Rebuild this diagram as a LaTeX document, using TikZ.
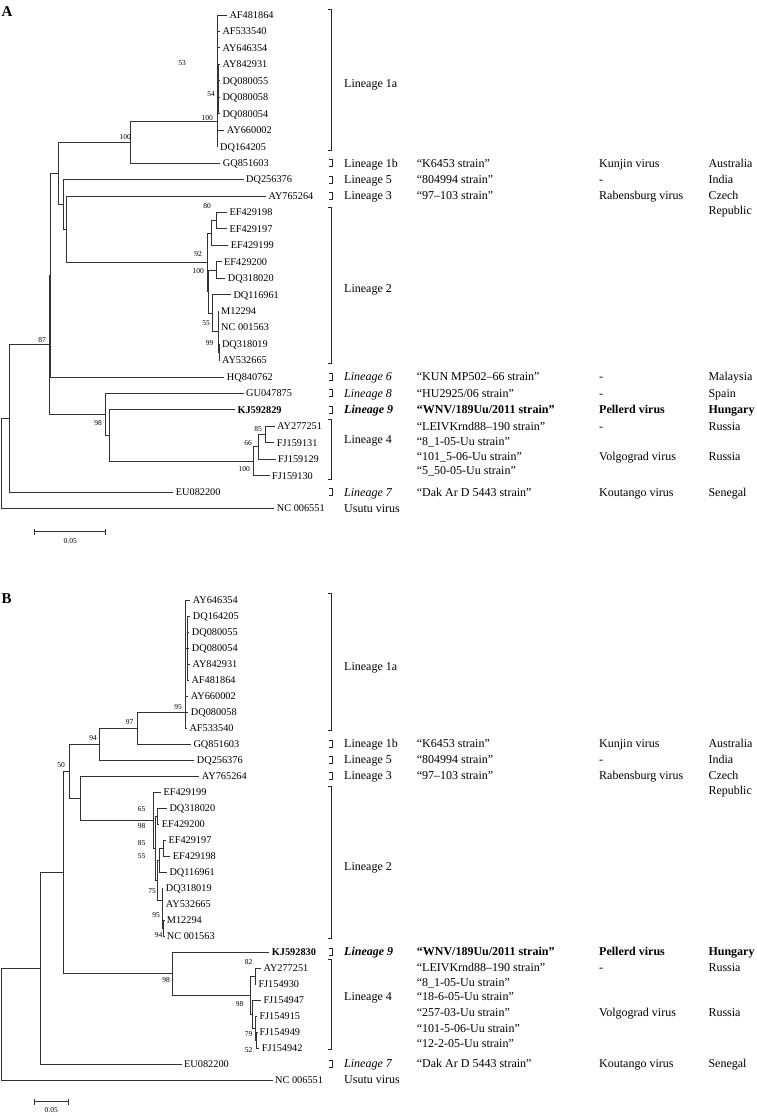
\documentclass[tikz,border=0pt]{standalone}
\usepackage{fontspec}
\setmainfont{Liberation Serif}
\usetikzlibrary{arrows.meta, positioning}

\begin{document}
\begin{tikzpicture}[x=1pt, y=-1pt,
  branch/.style={line width=0.8pt, black!80},
  leaf/.style={anchor=west, inner xsep=2.5pt, inner ysep=0pt, text height=6.8pt, text depth=0pt, font=\fontsize{10.3}{12}\selectfont},
  boot/.style={anchor=east, inner sep=0pt, text height=5pt, text depth=0pt, font=\fontsize{7.5}{9}\selectfont},
  info/.style={anchor=west, inner sep=0pt, text height=7.9pt, text depth=0pt, font=\fontsize{12}{14}\selectfont},
  brk/.style={line width=0.8pt, black!85},
  panel/.style={anchor=base west, inner sep=0pt, font=\fontsize{15}{18}\selectfont\bfseries}]
  \useasboundingbox (0,0) rectangle (757,1116);

  % ================= Panel A =================
  \node[panel] (pA) at (1.5,16.7) {A};

  % Leaves
  \foreach \n/\xx/\yy/\tx in {AF481864/226.8/15.0/AF481864, AF533540/219.8/31.45/AF533540,
      AY646354/219.8/47.9/AY646354, AY842931/219.8/64.35/AY842931, DQ080055/219.8/80.8/DQ080055,
      DQ080058/219.8/97.25/DQ080058, DQ080054/219.8/113.7/DQ080054, AY660002/224.2/130.15/AY660002,
      DQ164205/217.5/146.6/DQ164205, GQ851603/220.2/163.05/GQ851603, DQ256376/243.5/179.5/DQ256376,
      AY765264/265.8/195.95/AY765264, EF429198/226.8/212.4/EF429198, EF429197/226.8/228.85/EF429197,
      EF429199/228.2/245.3/EF429199, EF429200/221.5/261.75/EF429200, DQ318020/225.2/278.2/DQ318020,
      DQ116961/230.8/294.65/DQ116961, M12294/218.5/311.1/M12294, NC001563/218.5/327.55/NC 001563,
      DQ318019/219.3/344.0/DQ318019, AY532665/219.3/360.45/AY532665, HQ840762/224.2/376.9/HQ840762,
      GU047875/243.5/393.35/GU047875, AY277251/274.5/426.25/AY277251, FJ159131/274.2/442.7/FJ159131,
      FJ159129/275.5/459.15/FJ159129, FJ159130/269.5/475.6/FJ159130, EU082200/173.2/492.05/EU082200,
      NC006551/274.2/508.5/NC 006551}
    \node[leaf] (a\n) at (\xx,\yy) {\tx};
  \node[leaf, font=\fontsize{10.3}{12}\selectfont\bfseries] (aKJ592829) at (234.8,409.8) {KJ592829};

  % Internal nodes
  \coordinate (nAroot) at (1.5,463.3);
  \coordinate (nA7) at (9.3,418.1);
  \coordinate (nA87) at (49,344.1);
  \coordinate (nAe) at (50,274.95);
  \coordinate (nAb) at (58.3,173);
  \coordinate (nA100) at (130,142.4);
  \coordinate (nA1a) at (217,121.7);
  \coordinate (nA53) at (218.6,89);
  \coordinate (nAc) at (63.3,204.3);
  \coordinate (nAd) at (66.7,229.1);
  \coordinate (nA2) at (207,262.3);
  \coordinate (nA92) at (211.7,232.95);
  \coordinate (nA80) at (216.7,220.6);
  \coordinate (nA100c) at (208.5,291.6);
  \coordinate (nAE) at (216.7,270);
  \coordinate (nAR) at (212.5,313.1);
  \coordinate (nA55) at (218.3,331.6);
  \coordinate (nA99) at (219,352.2);
  \coordinate (nA98) at (105.7,414.4);
  \coordinate (nA94) at (109.3,435.5);
  \coordinate (nAL4) at (253.3,461.2);
  \coordinate (nA66) at (258.7,446.7);
  \coordinate (nA85) at (265.3,434.5);

  % Branches
  \foreach \p/\c in {nAroot/nA7, nAroot/aNC006551, nA7/nA87, nA7/aEU082200,
      nA87/nAe, nA87/nA98, nAe/nAb, nAe/aHQ840762, nAb/nA100, nAb/nAc,
      nA100/nA1a, nA100/aGQ851603, nA1a/aAF481864, nA1a/aAF533540, nA1a/aAY646354,
      nA1a/nA53, nA1a/aAY660002, nA1a/aDQ164205, nA53/aAY842931, nA53/aDQ080055,
      nA53/aDQ080058, nA53/aDQ080054, nAc/aDQ256376, nAc/nAd, nAd/aAY765264, nAd/nA2,
      nA2/nA92, nA2/nA100c, nA92/nA80, nA92/aEF429199, nA80/aEF429198, nA80/aEF429197,
      nA100c/nAE, nA100c/nAR, nAE/aEF429200, nAE/aDQ318020, nAR/aDQ116961, nAR/nA55,
      nA55/aM12294, nA55/aNC001563, nA55/nA99, nA99/aDQ318019, nA99/aAY532665,
      nA98/aGU047875, nA98/nA94, nA94/aKJ592829, nA94/nAL4, nAL4/nA66, nAL4/aFJ159130,
      nA66/nA85, nA66/aFJ159129, nA85/aAY277251, nA85/aFJ159131}
    \draw[branch] (\p) |- (\c);

  % Bootstrap values
  \foreach \xx/\yy/\tx [count=\i] in {186/63/53, 215/94.3/54, 213/118/100, 131/137.3/100,
      211/206/80, 202/254/92, 204/270.7/100, 210/322.7/55, 213.5/343.3/99, 46/340/87,
      102/422.7/98, 262/429.3/85, 252/442.7/66, 250/469.3/100}
    \node[boot] (bA\i) at (\xx,\yy) {\tx};

  % Brackets
  \draw[brk] (328,9.3) -| (331.7,150) -- (328,150);
  \draw[brk] (328,207.3) -| (331.7,363.3) -- (328,363.3);
  \draw[brk] (328,419) -| (331.7,479.3) -- (328,479.3);
  \foreach \yy in {163.05,179.5,195.95,376.9,393.35,409.8,492.05}
    \draw[brk] (328.5,\yy-3.5) -| (332,\yy+3.5) -- (328.5,\yy+3.5);

  % Lineage, strain, virus, country
  \foreach \yy/\tx [count=\i] in {84/Lineage 1a, 163.05/Lineage 1b, 179.5/Lineage 5,
      195.95/Lineage 3, 289/Lineage 2, 376.9/\textit{Lineage 6}, 393.35/\textit{Lineage 8},
      409.8/\textbf{\textit{Lineage 9}}, 440/Lineage 4, 492.05/\textit{Lineage 7}, 508.5/Usutu virus}
    \node[info] (aLin\i) at (344,\yy) {\tx};
  \foreach \yy/\tx [count=\i] in {163.05/{“K6453 strain”}, 179.5/{“804994 strain”},
      195.95/{“97–103 strain”}, 376.9/{“KUN MP502–66 strain”}, 393.35/{“HU2925/06 strain”},
      409.8/{\bfseries “WNV/189Uu/2011 strain”}, 426.7/{“LEIVKrnd88–190 strain”},
      441.7/{“8\_1-05-Uu strain”}, 456.7/{“101\_5-06-Uu strain”}, 470.5/{“5\_50-05-Uu strain”},
      492.05/{“Dak Ar D 5443 strain”}}
    \node[info] (aStr\i) at (416.7,\yy) {\tx};
  \foreach \yy/\tx [count=\i] in {163.05/Kunjin virus, 179.5/-, 195.95/Rabensburg virus,
      376.9/-, 393.35/-, 409.8/\textbf{Pellerd virus}, 426.7/-, 456.7/Volgograd virus,
      492.05/Koutango virus}
    \node[info] (aVir\i) at (599,\yy) {\tx};
  \foreach \yy/\tx [count=\i] in {163.05/Australia, 179.5/India, 195.95/Czech, 210.7/Republic,
      376.9/Malaysia, 393.35/Spain, 409.8/\textbf{Hungary}, 426.7/Russia, 456.7/Russia,
      492.05/Senegal}
    \node[info] (aCty\i) at (708.3,\yy) {\tx};

  % Scale bar
  \coordinate (aBarL) at (34.3,531.7);
  \coordinate (aBarR) at (106,531.7);
  \draw[branch, {Bar[width=6pt]}-{Bar[width=6pt]}] (aBarL) -- (aBarR);
  \node[boot, anchor=center] (aBarLbl) at (70.2,541) {0.05};

  % ================= Panel B =================
  \node[panel] (pB) at (1.5,603.3) {B};

  % Leaves
  \foreach \n/\xx/\yy/\tx in {AY646354/190.2/600/AY646354, DQ164205/190.2/616/DQ164205,
      DQ080055/189.2/632/DQ080055, DQ080054/189.2/648/DQ080054, AY842931/189.8/664/AY842931,
      AF481864/188.8/680/AF481864, AY660002/188.2/696/AY660002, DQ080058/188.2/712/DQ080058,
      AF533540/186.8/728/AF533540, GQ851603/190.8/744/GQ851603, DQ256376/194.2/760/DQ256376,
      AY765264/199.2/776/AY765264, EF429199/160.8/792/EF429199, DQ318020/166.8/808/DQ318020,
      EF429200/159.2/824/EF429200, EF429197/165.8/840/EF429197, EF429198/170.2/856/EF429198,
      DQ116961/166.8/872/DQ116961, DQ318019/163.2/888/DQ318019, AY532665/163.2/904/AY532665,
      M12294/164.2/920/M12294, NC001563/164.2/936/NC 001563, AY277251/260.8/968/AY277251,
      FJ154930/255.8/984/FJ154930, FJ154947/260.8/1000/FJ154947, FJ154915/256.8/1016/FJ154915,
      FJ154949/256.8/1032/FJ154949, FJ154942/259.2/1048/FJ154942, EU082200/181.5/1064/EU082200,
      NC006551/272.5/1080/NC 006551}
    \node[leaf] (b\n) at (\xx,\yy) {\tx};
  \node[leaf, font=\fontsize{10.3}{12}\selectfont\bfseries] (bKJ592830) at (269.2,952) {KJ592830};

  % Internal nodes
  \coordinate (nBroot) at (1.5,1024.1);
  \coordinate (nBb) at (40,968.2);
  \coordinate (nBa) at (63.3,872.3);
  \coordinate (nB50) at (69.3,771);
  \coordinate (nB94) at (99.3,744);
  \coordinate (nB97) at (137.3,728);
  \coordinate (nB1a) at (185.7,712);
  \coordinate (nB1ai) at (186.9,648);
  \coordinate (nB3) at (80,798);
  \coordinate (nB2) at (153.3,820);
  \coordinate (nB65) at (155,848);
  \coordinate (nB98b) at (157,816);
  \coordinate (nB85) at (157.3,880);
  \coordinate (nB55) at (159.3,860);
  \coordinate (nB197) at (163.3,848);
  \coordinate (nB75) at (162.3,900);
  \coordinate (nB94b) at (163.5,928);
  \coordinate (nB98) at (172.3,973.5);
  \coordinate (nBL4) at (250,995);
  \coordinate (nB82) at (255,976);
  \coordinate (nBX) at (252.7,1014);
  \coordinate (nB79) at (255.7,1028);
  \coordinate (nB52) at (256.5,1040);

  % Branches
  \foreach \p/\c in {nBroot/nBb, nBroot/bNC006551, nBb/nBa, nBb/bEU082200,
      nBa/nB50, nBa/nB98, nB50/nB94, nB50/nB3, nB94/nB97, nB94/bDQ256376,
      nB97/nB1a, nB97/bGQ851603, nB1a/bAY646354, nB1a/nB1ai, nB1a/bAY660002,
      nB1a/bDQ080058, nB1a/bAF533540, nB1ai/bDQ164205, nB1ai/bDQ080055, nB1ai/bDQ080054,
      nB1ai/bAY842931, nB1ai/bAF481864, nB3/bAY765264, nB3/nB2, nB2/bEF429199, nB2/nB65,
      nB65/nB98b, nB65/nB85, nB98b/bDQ318020, nB98b/bEF429200, nB85/nB55, nB85/nB75,
      nB55/nB197, nB55/bDQ116961, nB197/bEF429197, nB197/bEF429198, nB75/bDQ318019,
      nB75/bAY532665, nB75/nB94b, nB94b/bM12294, nB94b/bNC001563, nB98/bKJ592830,
      nB98/nBL4, nBL4/nB82, nBL4/nBX, nB82/bAY277251, nB82/bFJ154930, nBX/bFJ154947,
      nBX/nB79, nB79/bFJ154915, nB79/nB52, nB52/bFJ154949, nB52/bFJ154942}
    \draw[branch] (\p) |- (\c);

  % Bootstrap values
  \foreach \xx/\yy/\tx [count=\i] in {182/706.7/95, 133.5/722.3/97, 97/738.3/94, 65/765/50,
      145.5/809/65, 145.5/826/98, 145.5/843/85, 145.5/856/55, 156/891/75, 160/915/95,
      162.5/935/94, 170/980/98, 252.5/962.3/82, 243.5/1004/98, 252.5/1034/79, 252.5/1050/52}
    \node[boot] (bB\i) at (\xx,\yy) {\tx};

  % Brackets
  \draw[brk] (328,593.3) -| (331.7,730.7) -- (328,730.7);
  \draw[brk] (328,786.7) -| (331.7,938.3) -- (328,938.3);
  \draw[brk] (328,959.3) -| (331.7,1049.3) -- (328,1049.3);
  \foreach \yy in {744,760,776,952,1064}
    \draw[brk] (328.5,\yy-3.5) -| (332,\yy+3.5) -- (328.5,\yy+3.5);

  % Lineage, strain, virus, country
  \foreach \yy/\tx [count=\i] in {666.7/Lineage 1a, 744/Lineage 1b, 760/Lineage 5,
      776/Lineage 3, 866.7/Lineage 2, 952/\textbf{\textit{Lineage 9}}, 996.7/Lineage 4,
      1064/\textit{Lineage 7}, 1080/Usutu virus}
    \node[info] (bLin\i) at (344,\yy) {\tx};
  \foreach \yy/\tx [count=\i] in {744/{“K6453 strain”}, 760/{“804994 strain”},
      776/{“97–103 strain”}, 952/{\bfseries “WNV/189Uu/2011 strain”},
      967.7/{“LEIVKrnd88–190 strain”}, 982.3/{“8\_1-05-Uu strain”}, 996.7/{“18-6-05-Uu strain”},
      1012.7/{“257-03-Uu strain”}, 1028.3/{“101-5-06-Uu strain”}, 1043.3/{“12-2-05-Uu strain”},
      1064/{“Dak Ar D 5443 strain”}}
    \node[info] (bStr\i) at (416.7,\yy) {\tx};
  \foreach \yy/\tx [count=\i] in {744/Kunjin virus, 760/-, 776/Rabensburg virus,
      952/\textbf{Pellerd virus}, 967.7/-, 1012.7/Volgograd virus, 1064/Koutango virus}
    \node[info] (bVir\i) at (599,\yy) {\tx};
  \foreach \yy/\tx [count=\i] in {744/Australia, 760/India, 776/Czech, 790.5/Republic,
      952/\textbf{Hungary}, 967.7/Russia, 1012.7/Russia, 1064/Senegal}
    \node[info] (bCty\i) at (708.3,\yy) {\tx};

  % Scale bar
  \coordinate (bBarL) at (34.3,1101.7);
  \coordinate (bBarR) at (68.3,1101.7);
  \draw[branch, {Bar[width=6pt]}-{Bar[width=6pt]}] (bBarL) -- (bBarR);
  \node[boot, anchor=center] (bBarLbl) at (51.3,1110) {0.05};
\end{tikzpicture}
\end{document}
